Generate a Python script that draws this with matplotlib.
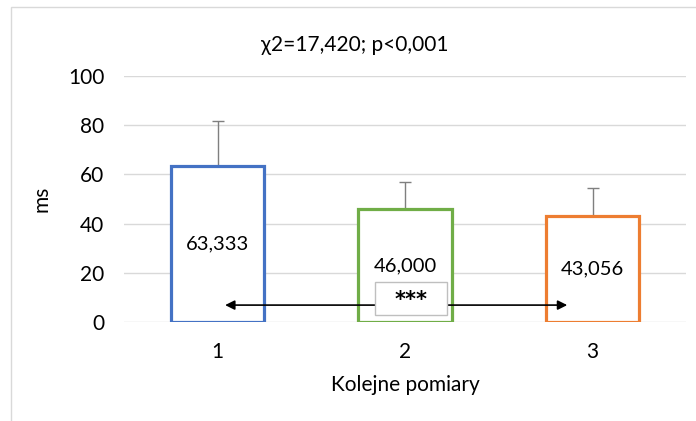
import matplotlib.pyplot as plt
from matplotlib.patches import Rectangle

# dane
pomiary = ["1", "2", "3"]
srednie = [63.333, 46.000, 43.056]
odchylenia = [18.5, 10.8, 11.4]
etykiety = ["63,333", "46,000", "43,056"]
kolory = ["#4472C4", "#70AD47", "#ED7D31"]
y_ticks = [0, 20, 40, 60, 80, 100]
tytul = "χ2=17,420; p<0,001"

plt.rcParams['font.family'] = ['Lato', 'DejaVu Sans']

fig = plt.figure(figsize=(6.96, 4.21), dpi=100)
ax = fig.add_axes([0.178, 0.235, 0.808, 0.5843])

x = list(range(len(pomiary)))
ax.bar(x, srednie, width=0.5, facecolor="white", edgecolor=kolory,
       linewidth=2.3, zorder=3)
ax.errorbar(x, srednie, yerr=[[0] * 3, odchylenia], fmt="none",
            ecolor="#7F7F7F", elinewidth=1, capsize=4, capthick=1, zorder=2)

for xi, v, txt in zip(x, srednie, etykiety):
    ax.text(xi, v / 2, txt, ha="center", va="center", fontsize=14.5, zorder=5)

# strzalka i gwiazdki
ax.annotate("", xy=(0.04, 6.9), xytext=(1.865, 6.9),
            arrowprops=dict(arrowstyle="<|-|>", color="black", lw=1.2,
                            mutation_scale=14, shrinkA=0, shrinkB=0),
            zorder=6)
ax.add_patch(Rectangle((0.84, 2.8), 0.385, 13.5, facecolor="white",
                       edgecolor="#BFBFBF", linewidth=1, zorder=7))
ax.text(1.03, 9.0, "***", ha="center", va="center", fontsize=15,
        fontweight="bold", family="DejaVu Sans", zorder=8)

ax.set_xlim(-0.5, 2.5)
ax.set_ylim(0, 100)
ax.set_xticks(x)
ax.set_xticklabels(pomiary)
ax.set_yticks(y_ticks)
ax.tick_params(length=0, labelsize=15, pad=14)
ax.yaxis.grid(True, color="#D9D9D9", linewidth=1)
ax.set_axisbelow(True)
for s in ax.spines.values():
    s.set_visible(False)

ax.set_xlabel("Kolejne pomiary", fontsize=15)
ax.set_ylabel("ms", fontsize=15)
ax.xaxis.set_label_coords(0.5, -0.215)
ax.yaxis.set_label_coords(-0.128, 0.5)
fig.text(355 / 696, 1 - 45 / 421, tytul, ha="center", va="center", fontsize=15)

# ramka wykresu
fig.patches.append(Rectangle((11 / 696, -0.1), 1.2, 1.1 - 7 / 421,
                             transform=fig.transFigure, fill=False,
                             edgecolor="#D9D9D9", linewidth=1))

fig.savefig("out.png", dpi=100)
